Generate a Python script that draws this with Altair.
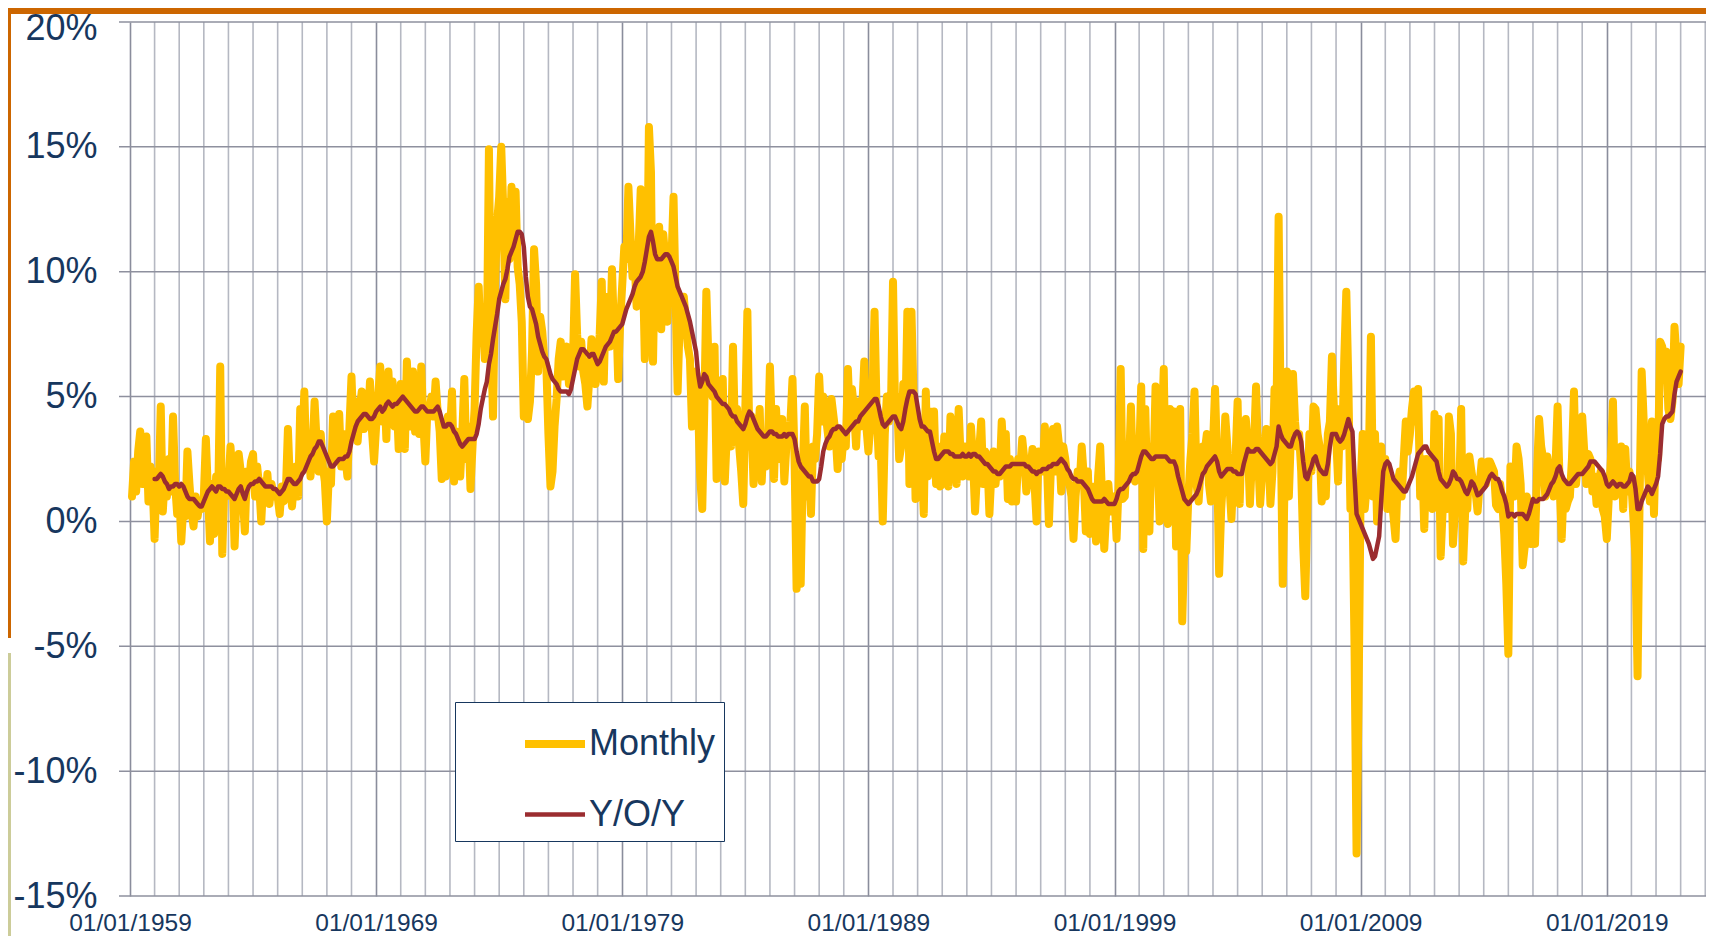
import altair as alt
import pandas as pd

# ---------------- data (annualized %) ----------------
SERIES = ["Monthly", "Y/O/Y"]
MONTHLY_START = (1959, 2)   # first monthly value: Feb 1959
YOY_START = (1960, 1)       # first Y/O/Y value: Jan 1960

M_1959 = [1.0, 2.4, 1.2, 2.8, 3.6, 1.5, 2.6, 3.4, 0.8, 2.2, 1.6]

M_1960S = [
    -0.7, 2.0, 1.2, 4.6, 0.4, 1.8, 1.0, 2.5, 1.2, 4.2, 1.5, 0.3,
    1.2, -0.8, 0.6, 0.2, 2.8, 1.5, 0.4, -0.2, 1.0, 0.2, 0.8, 0.5,
    1.0, 3.3, 1.2, -0.8, 1.5, -0.5, 1.8, 0.8, 6.2, -1.3, 1.5, 1.0,
    1.4, 3.0, 1.8, -1.0, 1.2, 2.7, 2.0, 1.0, -0.4, 2.0, 1.5, 2.4,
    2.7, 1.0, 2.2, 1.4, 0.0, 1.6, 0.8, 1.9, 0.7, 1.5, 1.0, 1.2,
    1.0, 0.3, 1.4, 0.8, 1.2, 3.7, 1.5, 0.6, 1.6, 2.2, 1.0, 4.5,
    3.0, 5.2, 2.2, 3.5, 1.8, 2.8, 4.8, 3.2, 2.0, 3.5, 2.2, 1.6,
    0.0, 2.0, 1.5, 4.2, 2.5, 3.0, 4.3, 2.2, 3.5, 2.6, 1.8, 3.8,
    5.8, 3.5, 4.8, 3.2, 4.5, 5.2, 3.7, 4.6, 3.8, 5.6, 3.6, 2.4,
    3.8, 5.0, 6.2, 4.0, 5.5, 3.3, 6.0, 4.2, 5.6, 3.8, 5.0, 2.9,
]

M_1970S = [
    5.5, 4.0, 2.9, 6.4, 4.5, 3.8, 6.0, 3.6, 4.8, 3.5, 6.2, 4.0,
    2.4, 4.5, 4.5, 5.0, 4.2, 5.6, 4.4, 3.6, 1.7, 2.5, 1.8, 4.2,
    3.5, 5.2, 1.6, 3.6, 2.8, 1.8, 3.5, 5.7, 2.5, 3.8, 1.3, 3.0,
    4.5, 7.5, 9.4, 7.2, 8.5, 6.5, 7.0, 14.9, 7.5, 4.2, 9.5, 12.0,
    13.0, 15.0, 12.5, 8.9, 12.8, 10.5, 13.4, 11.5, 13.2, 10.2, 9.5, 8.0,
    4.2, 5.0, 4.1, 4.8, 6.8, 10.9, 9.5, 6.0, 8.2, 7.6, 6.5, 6.2,
    3.5, 1.4, 2.0, 3.8, 4.9, 6.5, 7.2, 5.8, 6.5, 7.0, 5.5, 6.0,
    6.5, 9.9, 7.5, 6.2, 7.2, 6.0, 5.5, 4.6, 5.8, 7.3, 6.0, 5.5,
    6.2, 7.5, 9.6, 5.6, 9.0, 8.2, 7.0, 10.1, 7.5, 8.5, 5.7, 8.0,
    9.5, 11.0, 10.5, 13.4, 11.5, 9.8, 10.5, 8.6, 11.0, 13.3, 10.5, 6.5,
]

M_1980S = [
    8.5, 15.8, 14.0, 6.4, 11.0, 9.5, 11.8, 7.7, 11.5, 10.5, 8.0, 11.0,
    10.5, 13.0, 9.0, 5.2, 8.0, 7.5, 9.0, 8.0, 7.0, 6.5, 3.8, 5.0,
    6.0, 4.5, 1.8, 0.5, 4.5, 9.2, 6.5, 5.5, 5.0, 7.0, 1.7, 4.5,
    2.5, 5.7, 1.6, 3.5, 4.5, 3.0, 7.0, 3.2, 4.5, 3.0, 2.0, 0.7,
    4.5, 8.4, 3.0, 4.2, 1.5, 3.5, 3.0, 4.5, 1.6, 3.5, 2.2, 3.0,
    6.2, 3.5, 1.7, 4.5, 2.5, 3.8, 4.1, 1.6, 3.0, 3.5, 4.0, 5.7,
    2.5, -2.7, -1.0, -2.5, 2.0, 4.6, 1.0, 2.5, 0.3, 3.0, 2.5, 3.5,
    5.8, 4.0, 5.0, 4.5, 3.7, 3.0, 4.9, 4.2, 3.5, 2.1, 3.5, 2.5,
    3.5, 3.0, 6.1, 4.0, 5.3, 4.5, 3.0, 4.8, 3.8, 4.5, 6.4, 3.8,
    2.8, 4.0, 5.0, 8.4, 4.5, 2.6, 3.0, 0.0, 3.5, 5.0, 4.0, 4.5,
]

M_1990S = [
    9.6, 4.5, 5.0, 2.5, 3.0, 5.5, 4.0, 8.4, 1.5, 8.4, 5.0, 0.9,
    4.0, 1.5, 2.5, 0.3, 5.2, 1.8, 4.4, 2.0, 4.4, 1.5, 3.0, 1.4,
    1.5, 3.4, 2.8, 1.4, 4.2, 2.0, 3.0, 1.5, 4.5, 2.5, 1.8, 3.0,
    2.5, 1.8, 3.8, 2.5, 0.4, 2.0, 2.8, 4.0, 1.5, 2.8, 2.5, 0.3,
    2.0, 2.8, 1.5, 2.5, 1.8, 4.0, 2.5, 3.5, 0.9, 2.5, 0.8, 2.0,
    0.8, 2.5, 2.0, 3.3, 2.5, 1.2, 1.8, 2.0, 2.9, 1.5, 0.0, 2.8,
    2.5, 2.0, 3.8, 2.5, -0.1, 2.2, 3.7, 2.0, 3.8, 3.0, 1.2, 3.0,
    2.5, 1.6, 1.5, 1.0, -0.7, 1.0, 2.0, 1.5, 3.0, 1.8, -0.4, 2.0,
    -0.5, 1.4, 0.5, -0.8, 1.8, 3.0, 0.8, -1.1, 0.5, 1.5, 0.4, 0.8,
    1.0, -0.7, 1.5, 6.1, 0.9, 1.0, 2.5, 2.0, 4.6, 1.8, 1.6, 2.5,
]

M_2000S = [
    2.5, 5.4, -1.1, 4.5, 1.0, -0.4, 3.0, 2.0, 5.4, 2.5, 0.0, 3.5,
    6.1, 1.0, -0.1, 4.5, 2.0, 4.4, -1.0, 1.5, 4.5, -4.0, -1.0, -1.2,
    1.0, 2.5, 3.5, 5.2, 1.5, 0.8, 2.2, 3.0, 2.8, 3.5, 1.5, 0.8,
    3.0, 5.3, 2.5, -2.1, 0.5, 1.8, 4.2, 3.0, 1.5, 0.1, 2.0, 2.5,
    4.8, 0.7, 3.5, 2.5, 4.1, 3.0, 0.7, 2.5, 3.0, 5.4, 2.5, 0.7,
    2.0, 3.0, 3.7, 3.0, 0.7, 2.0, 5.3, 4.5, 12.2, 4.0, -2.5, 2.0,
    6.0, 1.0, 3.5, 5.9, 4.0, 3.0, 3.5, 2.0, -1.0, -3.0, 0.5, 3.5,
    2.0, 4.6, 4.5, 3.5, 3.0, 0.8, 2.0, 1.0, 3.5, 4.0, 6.6, 4.4,
    3.5, 1.6, 4.5, 3.0, 6.5, 9.2, 5.5, 0.5, 1.0, -5.0, -13.3, -7.0,
    1.5, 3.5, 0.5, 1.5, 2.5, 7.4, 1.0, 3.5, 0.0, 2.5, 3.0, 1.5,
]

M_2010S = [
    2.5, 0.5, 1.7, 1.0, 0.2, -0.7, 1.5, 2.0, 1.0, 2.5, 4.0, 2.8,
    3.5, 4.5, 5.2, 4.0, 5.3, 1.0, 2.5, -0.3, 2.5, 1.0, 2.0, 0.5,
    4.3, 3.0, 4.1, -1.4, 0.5, 1.0, 0.5, 4.2, 3.5, -0.9, 0.5, 1.5,
    1.0, 4.5, -1.6, 0.5, 0.5, 2.6, 2.0, 1.5, 1.2, 0.4, 1.5, 2.4,
    2.0, 1.5, 2.4, 2.4, 2.2, 2.0, 0.65, 0.5, 1.5, 0.8, -0.5, -2.5,
    -5.3, 2.2, 1.5, 1.0, 3.0, 2.5, 1.5, -1.75, -1.0, 1.0, 0.5, -0.9,
    -0.5, -0.9, 2.0, 4.1, 3.0, 2.5, 1.0, 2.6, 2.0, 1.8, 1.0, 2.2,
    4.6, 1.5, -0.7, 1.5, 0.5, 0.8, 1.0, 2.5, 5.2, 1.5, 2.5, 2.0,
    4.2, 2.8, 1.5, 2.7, 2.5, 1.2, 1.8, 0.7, 1.5, 2.0, 0.5, 0.2,
    -0.7, 1.0, 2.5, 4.8, 1.0, 1.5, 2.0, 3.0, 0.5, 2.9, 1.2, 2.0,
]

M_2020S = [
    1.5, 0.1, -1.5, -6.2, 1.0, 6.0, 4.0, 2.5, 2.0, 0.8, 4.0, 0.3,
    3.5, 2.5, 7.2, 7.0, 6.5, 6.8, 4.5, 4.1, 4.8, 7.8, 6.5, 5.5,
    7.0,
]

Y_1960S = [
    1.7, 1.7, 1.8, 1.9, 1.8, 1.6, 1.5, 1.3, 1.4, 1.4, 1.5, 1.5,
    1.4, 1.5, 1.4, 1.2, 1.0, 0.9, 0.9, 0.9, 0.8, 0.7, 0.6, 0.6,
    0.8, 1.0, 1.2, 1.3, 1.4, 1.3, 1.2, 1.4, 1.4, 1.3, 1.3, 1.2,
    1.2, 1.1, 1.0, 0.9, 1.1, 1.3, 1.4, 1.1, 0.9, 1.2, 1.4, 1.5,
    1.5, 1.6, 1.6, 1.7, 1.6, 1.5, 1.4, 1.4, 1.4, 1.4, 1.3, 1.3,
    1.2, 1.1, 1.2, 1.3, 1.5, 1.7, 1.7, 1.6, 1.5, 1.5, 1.6, 1.7,
    1.9, 2.0, 2.2, 2.4, 2.6, 2.7, 2.9, 3.0, 3.2, 3.2, 3.0, 2.8,
    2.6, 2.4, 2.2, 2.2, 2.3, 2.4, 2.5, 2.5, 2.5, 2.6, 2.6, 2.8,
    3.2, 3.5, 3.8, 4.0, 4.1, 4.2, 4.3, 4.3, 4.2, 4.1, 4.1, 4.2,
    4.4, 4.5, 4.6, 4.4, 4.5, 4.7, 4.8, 4.7, 4.6, 4.7, 4.7, 4.8,
]

Y_1970S = [
    4.9, 5.0, 4.9, 4.8, 4.7, 4.6, 4.5, 4.4, 4.4, 4.5, 4.6, 4.6,
    4.5, 4.4, 4.4, 4.4, 4.4, 4.5, 4.6, 4.4, 4.1, 3.8, 3.8, 3.9,
    3.9, 3.8, 3.6, 3.5, 3.3, 3.1, 3.0, 3.1, 3.2, 3.3, 3.3, 3.3,
    3.3, 3.5, 3.9, 4.5, 4.9, 5.3, 5.6, 6.3, 6.7, 7.3, 7.8, 8.3,
    8.9, 9.2, 9.5, 9.7, 10.1, 10.6, 10.8, 11.0, 11.3, 11.6, 11.6, 11.5,
    11.0, 9.8, 9.0, 8.6, 8.5, 8.2, 7.9, 7.4, 7.1, 6.8, 6.6, 6.5,
    6.2, 5.9, 5.7, 5.6, 5.5, 5.3, 5.2, 5.2, 5.2, 5.2, 5.1, 5.3,
    5.7, 6.1, 6.5, 6.7, 6.9, 6.9, 6.8, 6.7, 6.6, 6.7, 6.7, 6.5,
    6.3, 6.4, 6.6, 6.8, 7.0, 7.1, 7.2, 7.4, 7.6, 7.6, 7.7, 7.8,
    7.9, 8.2, 8.5, 8.7, 8.9, 9.1, 9.4, 9.6, 9.7, 9.8, 10.0, 10.4,
]

Y_1980S = [
    10.9, 11.4, 11.6, 11.2, 10.7, 10.5, 10.5, 10.5, 10.6, 10.7, 10.7, 10.6,
    10.4, 10.2, 9.8, 9.4, 9.2, 9.0, 8.8, 8.6, 8.3, 8.0, 7.6, 7.2,
    6.8, 5.9, 5.4, 5.6, 5.9, 5.8, 5.5, 5.4, 5.3, 5.2, 5.0, 4.9,
    4.8, 4.7, 4.7, 4.6, 4.5, 4.3, 4.2, 4.2, 4.0, 3.9, 3.8, 3.7,
    3.9, 4.2, 4.4, 4.3, 4.1, 3.9, 3.7, 3.6, 3.5, 3.4, 3.4, 3.5,
    3.6, 3.6, 3.5, 3.5, 3.4, 3.4, 3.4, 3.5, 3.4, 3.5, 3.5, 3.5,
    3.3, 2.8, 2.4, 2.2, 2.1, 2.0, 1.9, 1.8, 1.8, 1.6, 1.6, 1.6,
    1.7, 2.2, 2.8, 3.1, 3.3, 3.4, 3.6, 3.7, 3.7, 3.8, 3.8, 3.7,
    3.6, 3.5, 3.6, 3.7, 3.8, 3.9, 4.0, 4.0, 4.2, 4.3, 4.4, 4.5,
    4.6, 4.7, 4.8, 4.9, 4.9, 4.6, 4.2, 3.9, 3.8, 3.9, 4.0, 4.1,
]

Y_1990S = [
    4.2, 4.2, 4.0, 3.8, 3.7, 4.0, 4.5, 4.9, 5.2, 5.2, 5.2, 5.1,
    4.6, 4.1, 3.8, 3.8, 3.7, 3.6, 3.6, 3.2, 2.8, 2.5, 2.5, 2.6,
    2.7, 2.8, 2.8, 2.8, 2.7, 2.7, 2.6, 2.6, 2.6, 2.6, 2.7, 2.6,
    2.6, 2.7, 2.6, 2.7, 2.7, 2.6, 2.6, 2.5, 2.4, 2.3, 2.3, 2.2,
    2.1, 2.0, 2.0, 1.9, 1.9, 2.0, 2.1, 2.2, 2.2, 2.2, 2.3, 2.3,
    2.3, 2.3, 2.3, 2.3, 2.3, 2.2, 2.2, 2.1, 2.0, 2.0, 1.9, 2.0,
    2.0, 2.1, 2.1, 2.1, 2.2, 2.2, 2.3, 2.3, 2.3, 2.4, 2.5, 2.4,
    2.3, 2.1, 2.0, 1.8, 1.7, 1.7, 1.6, 1.6, 1.6, 1.5, 1.4, 1.3,
    1.1, 0.9, 0.8, 0.8, 0.8, 0.8, 0.8, 0.9, 0.8, 0.7, 0.7, 0.7,
    0.7, 0.9, 1.2, 1.3, 1.3, 1.4, 1.5, 1.6, 1.8, 1.9, 1.9, 2.0,
]

Y_2000S = [
    2.3, 2.6, 2.8, 2.8, 2.7, 2.6, 2.5, 2.5, 2.6, 2.6, 2.6, 2.6,
    2.6, 2.6, 2.5, 2.4, 2.4, 2.4, 2.2, 1.8, 1.5, 1.2, 0.9, 0.8,
    0.7, 0.8, 0.9, 1.0, 1.1, 1.3, 1.6, 1.9, 2.0, 2.2, 2.3, 2.4,
    2.5, 2.6, 2.4, 2.0, 1.8, 1.9, 2.0, 2.1, 2.1, 2.1, 2.0, 2.0,
    1.9, 1.9, 1.9, 2.3, 2.6, 2.9, 2.8, 2.8, 2.8, 2.9, 2.9, 2.8,
    2.7, 2.6, 2.5, 2.4, 2.3, 2.4, 2.7, 3.0, 3.8, 3.5, 3.3, 3.2,
    3.1, 3.0, 3.0, 3.3, 3.5, 3.6, 3.5, 3.2, 2.4, 1.8, 1.7, 2.0,
    2.2, 2.5, 2.6, 2.3, 2.1, 2.0, 1.9, 1.9, 2.3, 3.0, 3.5, 3.5,
    3.5, 3.3, 3.2, 3.3, 3.5, 3.8, 4.1, 3.8, 3.6, 1.8, 0.3, 0.1,
    -0.1, -0.3, -0.5, -0.7, -0.9, -1.2, -1.5, -1.4, -1.0, -0.6, 0.8, 2.0,
]

Y_2010S = [
    2.3, 2.4, 2.3, 2.0, 1.7, 1.6, 1.5, 1.4, 1.3, 1.2, 1.2, 1.4,
    1.6, 1.8, 2.1, 2.4, 2.7, 2.8, 2.9, 3.0, 3.0, 2.8, 2.7, 2.6,
    2.5, 2.4, 2.0, 1.7, 1.6, 1.5, 1.4, 1.5, 1.7, 2.0, 1.9, 1.7,
    1.7, 1.6, 1.4, 1.2, 1.1, 1.3, 1.6, 1.5, 1.3, 1.05, 1.1, 1.2,
    1.3, 1.4, 1.6, 1.8, 1.9, 1.8, 1.7, 1.7, 1.5, 1.2, 1.0, 0.7,
    0.2, 0.3, 0.3, 0.2, 0.3, 0.3, 0.3, 0.3, 0.2, 0.1, 0.3, 0.6,
    0.9, 0.8, 0.8, 0.9, 0.9, 0.9, 1.0, 1.1, 1.3, 1.5, 1.6, 1.8,
    2.1, 2.2, 1.9, 1.7, 1.6, 1.5, 1.5, 1.6, 1.7, 1.8, 1.9, 1.9,
    1.9, 2.0, 2.1, 2.2, 2.4, 2.4, 2.4, 2.3, 2.2, 2.1, 2.0, 1.8,
    1.5, 1.4, 1.5, 1.6, 1.5, 1.4, 1.5, 1.5, 1.4, 1.4, 1.5, 1.6,
]

Y_2020S = [
    1.9, 1.8, 1.3, 0.5, 0.5, 0.8, 1.0, 1.2, 1.4, 1.3, 1.1, 1.3,
    1.5, 1.8, 2.7, 3.9, 4.1, 4.2, 4.2, 4.3, 4.4, 5.1, 5.6, 5.8,
    6.0,
]

Y_TICKS = [-15, -10, -5, 0, 5, 10, 15, 20]
LABEL_YEARS = [1959, 1969, 1979, 1989, 1999, 2009, 2019]
GRID_YEARS = [y for y in range(1959, 2024) if y not in LABEL_YEARS]

# ---------------- build table ----------------
monthly = M_1959 + M_1960S + M_1970S + M_1980S + M_1990S + M_2000S + M_2010S + M_2020S
yoy = Y_1960S + Y_1970S + Y_1980S + Y_1990S + Y_2000S + Y_2010S + Y_2020S


def month_times(start, n):
    y0, m0 = start
    return [y0 + (m0 - 1 + i) / 12.0 for i in range(n)]


df = pd.concat([
    pd.DataFrame({"t": month_times(MONTHLY_START, len(monthly)), "v": monthly, "series": SERIES[0]}),
    pd.DataFrame({"t": month_times(YOY_START, len(yoy)), "v": yoy, "series": SERIES[1]}),
], ignore_index=True)

# ---------------- styling ----------------
GOLD = "#FFC000"
RED = "#9B2D30"
NAVY = "#17375E"
FONT = "Liberation Sans"
W, H = 1587, 874

xs = alt.Scale(domain=[1958.554, 2023.03], nice=False, zero=False)
ys = alt.Scale(domain=[-15, 20], nice=False, zero=False)

x_axis = alt.Axis(
    values=LABEL_YEARS, labelExpr="'01/01/' + datum.value", title=None,
    grid=True, gridColor="#8A8D9C", gridWidth=1.6, ticks=False, domain=False,
    labelFont=FONT, labelFontSize=24.5, labelColor=NAVY, labelPadding=15,
    labelFlush=False, labelOverlap=False,
)
y_axis = alt.Axis(
    values=Y_TICKS, labelExpr="datum.value + '%'", title=None,
    grid=False, ticks=False, domain=False,
    labelFont=FONT, labelFontSize=36, labelColor=NAVY, labelPadding=22,
    labelOffset={"condition": {"test": "datum.value == 20", "value": 6}, "value": 0},
    labelFlush=False, labelOverlap=False, zindex=1,
)

legend = alt.Legend(
    orient="none", legendX=336, legendY=680, title=None,
    symbolType="stroke", symbolSize=3600,
    labelFont=FONT, labelFontSize=36, labelColor=NAVY, labelLimit=400,
    padding=8, rowPadding=20, symbolOffset=58, labelOffset=0,
    fillColor="white", strokeColor=NAVY,
)

# light yearly gridlines and horizontal gridlines (behind the data)
year_lines = alt.Chart(pd.DataFrame({"yr": GRID_YEARS})).mark_rule(
    color="#B5B8C2", strokeWidth=1.6
).encode(x=alt.X("yr:Q", scale=xs, axis=x_axis))

h_lines = alt.Chart(pd.DataFrame({"v": Y_TICKS})).mark_rule(
    color="#8E909E", strokeWidth=1.5
).encode(y=alt.Y("v:Q", scale=ys, axis=y_axis))

lines = alt.Chart(df).mark_line(strokeCap="round", strokeJoin="round").encode(
    x=alt.X("t:Q", scale=xs, axis=x_axis),
    y=alt.Y("v:Q", scale=ys, axis=y_axis),
    color=alt.Color("series:N", scale=alt.Scale(domain=SERIES, range=[GOLD, RED]), legend=legend),
    strokeWidth=alt.StrokeWidth(
        "series:N",
        scale=alt.Scale(type="point", domain=SERIES, range=[8, 4.5], padding=0),
        legend=legend,
    ),
)

deco = alt.Data(values=[{"d": 0}])
top_bar = alt.Chart(deco).mark_rect(color="#CC6600").encode(
    x=alt.value(-111), x2=alt.value(W), y=alt.value(-14), y2=alt.value(-8))
left_bar = alt.Chart(deco).mark_rect(color="#CC6600").encode(
    x=alt.value(-111), x2=alt.value(-108), y=alt.value(-14), y2=alt.value(616))
left_bar2 = alt.Chart(deco).mark_rect(color="#CCCC99").encode(
    x=alt.value(-111), x2=alt.value(-108), y=alt.value(631), y2=alt.value(914))

chart = alt.layer(year_lines, h_lines, lines, top_bar, left_bar, left_bar2).properties(
    width=W, height=H,
    autosize=alt.AutoSizeParams(type="none"),
    padding={"left": 111, "top": 14, "right": 0, "bottom": 40},
).configure_view(strokeWidth=0)

chart.save("out.html", embed_options={"renderer": "svg", "actions": False})
